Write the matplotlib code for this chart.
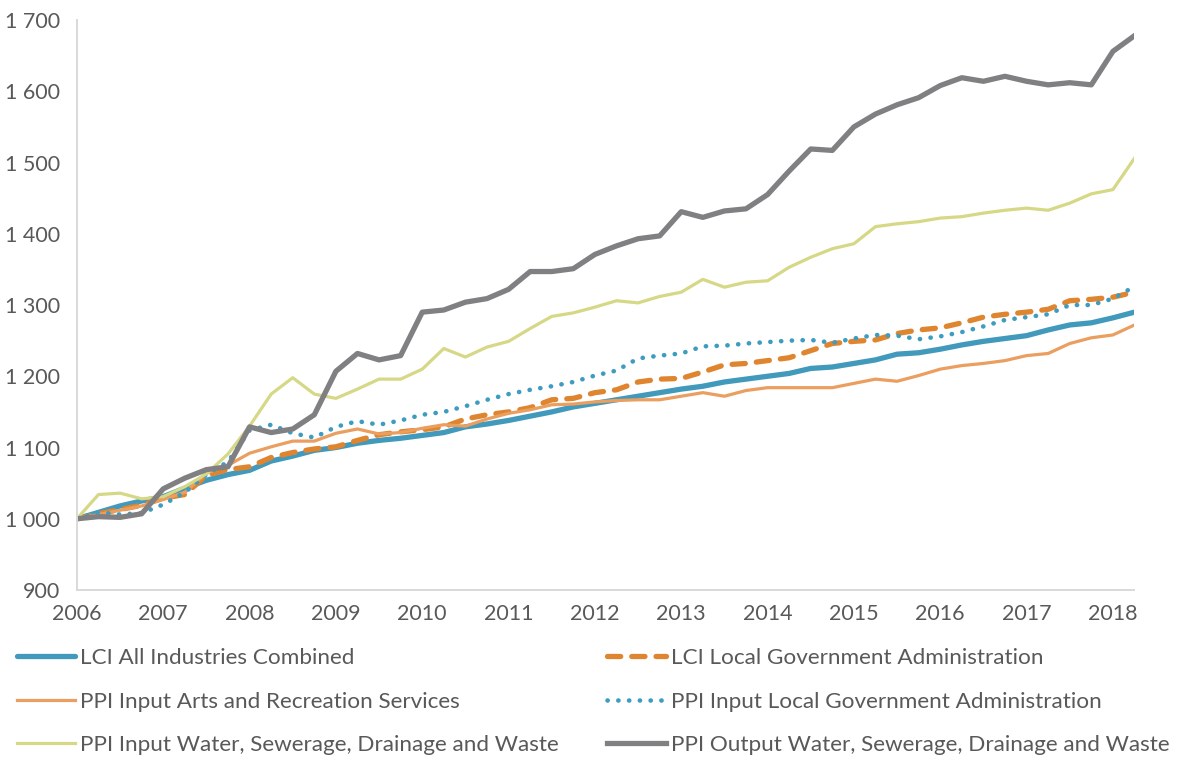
import matplotlib
matplotlib.use('Agg')
import matplotlib.pyplot as plt
from matplotlib.ticker import FuncFormatter
import numpy as np

# quarterly index values, Q1 2006 .. Q2 2018 (base 1000)
lci_all = [1000, 1009, 1018, 1025, 1031, 1043, 1054, 1062, 1068, 1081, 1088, 1096, 1100, 1106, 1110, 1113,
           1117, 1121, 1129, 1133, 1138, 1144, 1150, 1157, 1162, 1167, 1172, 1177, 1182, 1186, 1192, 1196,
           1200, 1204, 1211, 1213, 1218, 1223, 1231, 1233, 1238, 1244, 1249, 1253, 1257, 1265, 1272, 1275, 1282, 1290]
lci_lga = [1000, 1007, 1013, 1019, 1029, 1034, 1061, 1069, 1073, 1086, 1093, 1098, 1101, 1110, 1118, 1122,
           1125, 1129, 1140, 1146, 1150, 1156, 1167, 1169, 1177, 1181, 1192, 1196, 1197, 1206, 1216, 1218,
           1222, 1226, 1236, 1246, 1249, 1251, 1260, 1265, 1268, 1275, 1283, 1287, 1290, 1294, 1306, 1308, 1311, 1318]
ppi_arts = [1000, 1006, 1012, 1018, 1027, 1037, 1064, 1075, 1092, 1101, 1109, 1109, 1120, 1126, 1119, 1121,
            1127, 1132, 1130, 1140, 1148, 1153, 1160, 1161, 1164, 1166, 1167, 1167, 1172, 1177, 1172, 1180,
            1184, 1184, 1184, 1184, 1190, 1196, 1193, 1201, 1210, 1215, 1218, 1222, 1229, 1232, 1246, 1254, 1258, 1272]
ppi_lga = [1000, 1009, 1006, 1008, 1020, 1037, 1062, 1080, 1124, 1132, 1120, 1114, 1129, 1137, 1132, 1138,
           1146, 1150, 1158, 1167, 1175, 1181, 1186, 1192, 1201, 1208, 1225, 1229, 1232, 1242, 1243, 1246,
           1248, 1250, 1251, 1247, 1253, 1258, 1257, 1252, 1256, 1262, 1270, 1279, 1283, 1287, 1300, 1300, 1309, 1326]
ppi_water_in = [1000, 1034, 1036, 1028, 1031, 1045, 1063, 1091, 1130, 1175, 1198, 1175, 1169, 1182, 1196, 1196,
                1210, 1239, 1227, 1241, 1249, 1267, 1284, 1289, 1297, 1306, 1303, 1312, 1318, 1336, 1325, 1332,
                1334, 1353, 1367, 1379, 1386, 1410, 1414, 1417, 1422, 1424, 1429, 1433, 1436, 1433, 1443, 1456, 1462, 1506]
ppi_water_out = [1000, 1003, 1002, 1007, 1042, 1057, 1069, 1073, 1129, 1121, 1126, 1146, 1207, 1232, 1223, 1229,
                 1290, 1293, 1304, 1309, 1322, 1347, 1347, 1351, 1371, 1383, 1393, 1397, 1431, 1423, 1432, 1435,
                 1455, 1488, 1519, 1517, 1550, 1568, 1581, 1591, 1608, 1619, 1614, 1621, 1614, 1609, 1612, 1609, 1656, 1678]

years = [str(y) for y in range(2006, 2019)]
labels = ['LCI All Industries Combined', 'LCI Local Government Administration',
          'PPI Input Arts and Recreation Services', 'PPI Input Local Government Administration',
          'PPI Input Water, Sewerage, Drainage and Waste', 'PPI Output Water, Sewerage, Drainage and Waste']

plt.rcParams['font.family'] = ['Lato', 'DejaVu Sans']
txt_col = '#595959'

fig = plt.figure(figsize=(11.83, 7.58), dpi=100)
ax = fig.add_axes([0.065, 0.2216, 0.894, 0.752])

x = np.arange(len(lci_all))
h = {}
h[0], = ax.plot(x, lci_all, color='#4199BB', lw=3.8, solid_capstyle='round')
h[1], = ax.plot(x, lci_lga, color='#E0852F', lw=3.8, linestyle=(0, (2.5, 2.1)), dash_capstyle='round')
h[2], = ax.plot(x, ppi_arts, color='#EA9E5F', lw=2.3)
h[3], = ax.plot(x, ppi_lga, color='#3E9CC0', lw=3.3, linestyle=(0, (0.05, 2.3)), dash_capstyle='round')
h[4], = ax.plot(x, ppi_water_in, color='#D6D886', lw=2.3)
h[5], = ax.plot(x, ppi_water_out, color='#808082', lw=3.8)

ax.set_xlim(0, len(lci_all) - 1)
ax.set_ylim(900, 1700)
ax.set_xticks(np.arange(0, len(lci_all), 4))
ax.set_xticklabels(years)
ax.set_yticks(np.arange(900, 1701, 100))
ax.yaxis.set_major_formatter(FuncFormatter(lambda v, p: f'{v:,.0f}'.replace(',', ' ')))
ax.tick_params(axis='both', length=0, labelsize=15.5, colors=txt_col)
ax.tick_params(axis='y', pad=12)
ax.tick_params(axis='x', pad=10)

for s in ['top', 'right']:
    ax.spines[s].set_visible(False)
for s in ['left', 'bottom']:
    ax.spines[s].set_color('#D9D9D9')
    ax.spines[s].set_linewidth(1.4)

# legend filled row-wise, two columns
order = [0, 2, 4, 1, 3, 5]
fig.legend([h[i] for i in order], [labels[i] for i in order], ncol=2, loc='upper left',
           bbox_to_anchor=(0.014, 0.145), frameon=False, fontsize=16.2, labelcolor=txt_col,
           handlelength=2.6, handletextpad=0.22, columnspacing=2.15, labelspacing=1.05,
           borderpad=0, borderaxespad=0)

fig.savefig('out.png', dpi=100)
